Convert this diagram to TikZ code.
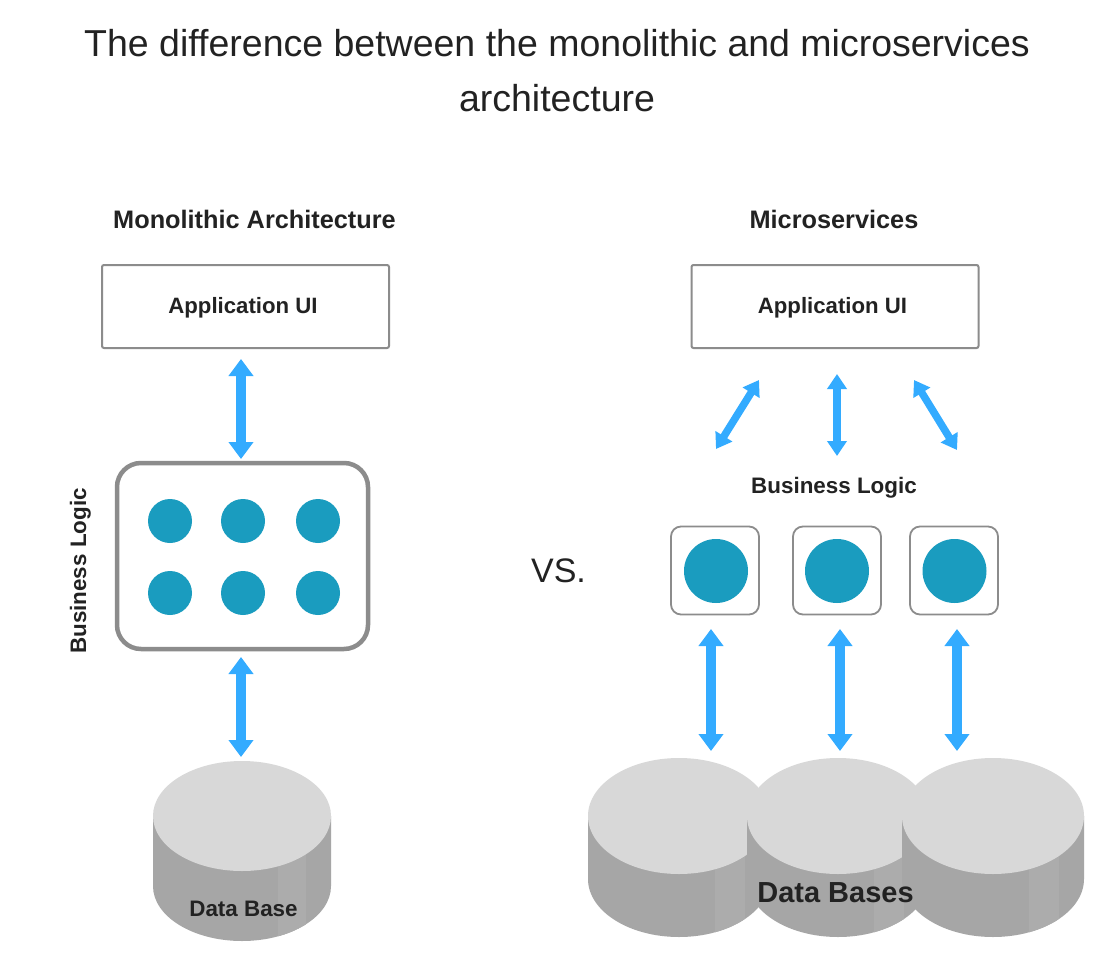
\documentclass[tikz,border=0pt]{standalone}
\usepackage{fontspec}
\setmainfont{Liberation Sans}
\usetikzlibrary{arrows.meta}
\definecolor{arrowblue}{HTML}{33ABFF}
\definecolor{teal1}{HTML}{1A9CBF}
\definecolor{edge}{HTML}{8C8C8C}
\definecolor{dbtop}{HTML}{D8D8D8}
\definecolor{dbside}{HTML}{A6A6A6}
\definecolor{dbband}{HTML}{ACACAC}
\definecolor{ink}{HTML}{222222}
\tikzset{
  x=1pt,y=-1pt,
  titletext/.style={font=\fontsize{37.5}{55}\selectfont,text=ink,align=center,inner sep=0},
  headtext/.style={font=\fontsize{25.3}{28}\selectfont\bfseries,text=ink,inner sep=0},
  labeltext/.style={font=\fontsize{22.4}{26}\selectfont\bfseries,text=ink,inner sep=0},
  uibox/.style={draw=edge,line width=2pt,rounded corners=2pt,minimum width=287pt,minimum height=83pt,fill=white,inner sep=0,
    font=\fontsize{22.2}{26}\selectfont\bfseries,text=ink,text height=18pt,text depth=5pt},
  bigbox/.style={draw=edge,line width=4.5pt,rounded corners=24pt,minimum width=251pt,minimum height=186pt,fill=white},
  svcbox/.style={draw=edge,line width=1.8pt,rounded corners=10pt,minimum width=88pt,minimum height=88pt,fill=white},
  dotsmall/.style={circle,fill=teal1,minimum size=44pt,inner sep=0},
  dotbig/.style={circle,fill=teal1,minimum size=64pt,inner sep=0},
  dbl/.style={draw=arrowblue,line width=10pt,{Triangle[length=17pt,width=24pt]}-{Triangle[length=17pt,width=24pt]}},
  dblthin/.style={draw=arrowblue,line width=7.5pt,{Triangle[length=15pt,width=19pt]}-{Triangle[length=15pt,width=19pt]}},
}
% #1 cx, #2 cy top, #3 rx, #4 ry, #5 height
\newcommand{\dbcyl}[5]{%
  \fill[dbside] (#1-#3,#2) -- (#1-#3,#2+#5) arc[start angle=180,end angle=0,x radius=#3,y radius=#4] -- (#1+#3,#2) -- cycle;
  \begin{scope}
    \clip (#1-#3,#2) -- (#1-#3,#2+#5) arc[start angle=180,end angle=0,x radius=#3,y radius=#4] -- (#1+#3,#2) -- cycle;
    \fill[dbband] (#1+0.4*#3,#2) rectangle (#1+0.72*#3,#2+#5+#4);
  \end{scope}
  \fill[dbtop] (#1,#2) ellipse[x radius=#3,y radius=#4];
}
\begin{document}
\begin{tikzpicture}
\useasboundingbox (0,0) rectangle (1106,969);
\fill[white] (0,0) rectangle (1106,969);
\node[titletext] (title) at (557,71) {The difference between the monolithic and microservices\\architecture};

\node[headtext] (hm) at (254.5,219) {Monolithic Architecture};
\node[headtext] (hs) at (834,219) {Microservices};

\node[uibox] (uil) at (245.5,306.5) {Application UI\kern5pt};
\node[uibox] (uir) at (835,306.5) {Application UI\kern5pt};

% monolith
\node[bigbox] (bl) at (242.5,556) {};
\foreach \n/\x in {a/170,b/243,c/318}{
  \node[dotsmall] (t\n) at (\x,521) {};
  \node[dotsmall] (u\n) at (\x,593) {};
}
\node[labeltext,rotate=90] (bll) at (80.5,571) {Business Logic};
\coordinate (a1s) at (241,359); \coordinate (a1e) at (241,459);
\coordinate (a2s) at (241,657); \coordinate (a2e) at (241,757);
\draw[dbl] (a1s) -- (a1e);
\draw[dbl] (a2s) -- (a2e);
\dbcyl{242}{816}{89}{55}{70}
\node[labeltext] (dbl) at (243.5,909) {Data Base};

\node[font=\fontsize{34}{40}\selectfont,text=ink,inner sep=0] (vs) at (558.5,571) {VS.};

% microservices
\coordinate (d1a) at (716,449); \coordinate (d1b) at (759,380);
\coordinate (d2a) at (837,456); \coordinate (d2b) at (837,374);
\coordinate (d3a) at (957,450); \coordinate (d3b) at (914,380);
\draw[dblthin] (d1a) -- (d1b);
\draw[dblthin] (d2a) -- (d2b);
\draw[dblthin] (d3a) -- (d3b);
\node[labeltext] (blr) at (834,487.5) {Business Logic};
\node[svcbox] (s1) at (715,570.5) {};
\node[svcbox] (s2) at (837,570.5) {};
\node[svcbox] (s3) at (954,570.5) {};
\node[dotbig] (c1) at (716,571) {};
\node[dotbig] (c2) at (837,571) {};
\node[dotbig] (c3) at (954.5,571) {};
\coordinate (e1a) at (711,629); \coordinate (e1b) at (711,751);
\coordinate (e2a) at (840,629); \coordinate (e2b) at (840,751);
\coordinate (e3a) at (957,629); \coordinate (e3b) at (957,751);
\draw[dbl] (e1a) -- (e1b);
\draw[dbl] (e2a) -- (e2b);
\draw[dbl] (e3a) -- (e3b);
\dbcyl{679}{816}{91}{58}{63}
\dbcyl{838}{816}{91}{58}{63}
\dbcyl{993}{816}{91}{58}{63}
\node[font=\fontsize{29}{34}\selectfont\bfseries,text=ink,inner sep=0] (dbr) at (835.5,893) {Data Bases};
\end{tikzpicture}
\end{document}
